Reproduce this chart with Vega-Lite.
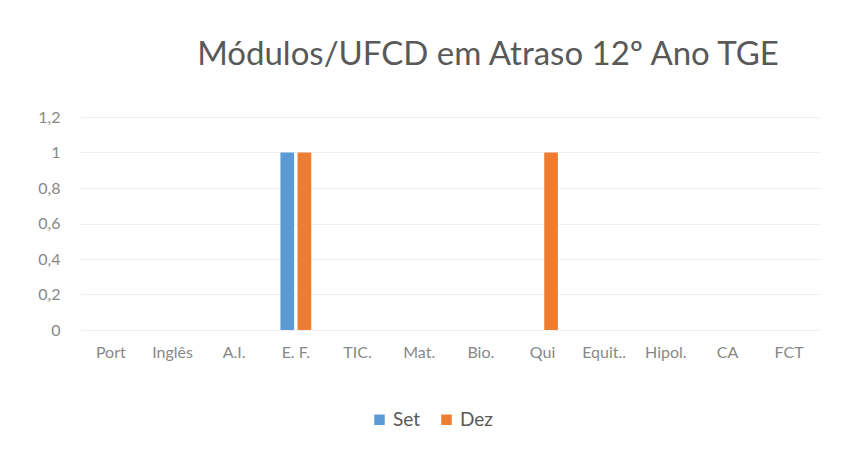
{
  "$schema": "https://vega.github.io/schema/vega-lite/v6.json",
  "autosize": "none",
  "width": 740,
  "height": 213,
  "padding": {"left": 80, "top": 117, "right": 21, "bottom": 120},
  "background": "white",
  "config": {
    "font": "Lato",
    "view": {"stroke": null}
  },
  "title": {
    "text": "Módulos/UFCD em Atraso 12º Ano TGE",
    "fontSize": 33,
    "fontWeight": "normal",
    "color": "#595959",
    "offset": 37,
    "dx": 38
  },
  "data": {
    "values": [
      {"cat": "Port", "serie": "Set", "v": 0}, {"cat": "Port", "serie": "Dez", "v": 0},
      {"cat": "Inglês", "serie": "Set", "v": 0}, {"cat": "Inglês", "serie": "Dez", "v": 0},
      {"cat": "A.I.", "serie": "Set", "v": 0}, {"cat": "A.I.", "serie": "Dez", "v": 0},
      {"cat": "E. F.", "serie": "Set", "v": 1}, {"cat": "E. F.", "serie": "Dez", "v": 1},
      {"cat": "TIC.", "serie": "Set", "v": 0}, {"cat": "TIC.", "serie": "Dez", "v": 0},
      {"cat": "Mat.", "serie": "Set", "v": 0}, {"cat": "Mat.", "serie": "Dez", "v": 0},
      {"cat": "Bio.", "serie": "Set", "v": 0}, {"cat": "Bio.", "serie": "Dez", "v": 0},
      {"cat": "Qui", "serie": "Set", "v": 0}, {"cat": "Qui", "serie": "Dez", "v": 1},
      {"cat": "Equit..", "serie": "Set", "v": 0}, {"cat": "Equit..", "serie": "Dez", "v": 0},
      {"cat": "Hipol.", "serie": "Set", "v": 0}, {"cat": "Hipol.", "serie": "Dez", "v": 0},
      {"cat": "CA", "serie": "Set", "v": 0}, {"cat": "CA", "serie": "Dez", "v": 0},
      {"cat": "FCT", "serie": "Set", "v": 0}, {"cat": "FCT", "serie": "Dez", "v": 0}
    ]
  },
  "mark": {"type": "bar"},
  "encoding": {
    "x": {
      "field": "cat",
      "type": "nominal",
      "sort": null,
      "title": null,
      "scale": {"paddingInner": 0.5, "paddingOuter": 0.25},
      "axis": {
        "labelAngle": 0,
        "labelFontSize": 16,
        "labelColor": "#888888",
        "labelPadding": 14,
        "domain": false,
        "ticks": false
      }
    },
    "xOffset": {
      "field": "serie",
      "type": "nominal",
      "sort": ["Set", "Dez"],
      "scale": {"paddingInner": 0.2}
    },
    "y": {
      "field": "v",
      "type": "quantitative",
      "title": null,
      "scale": {"domain": [0, 1.2]},
      "axis": {
        "values": [0, 0.2, 0.4, 0.6, 0.8, 1, 1.2],
        "labelExpr": "replace(format(datum.value, '~r'), '.', ',')",
        "labelFontSize": 16,
        "labelColor": "#888888",
        "labelPadding": 20,
        "domain": false,
        "ticks": false,
        "gridColor": "#f0f0f0"
      }
    },
    "color": {
      "field": "serie",
      "type": "nominal",
      "sort": ["Set", "Dez"],
      "scale": {"domain": ["Set", "Dez"], "range": ["#5B9BD5", "#ED7D31"]},
      "legend": {
        "title": null,
        "orient": "none",
        "direction": "horizontal",
        "legendX": 290,
        "legendY": 293,
        "symbolType": "square",
        "symbolSize": 110,
        "labelFontSize": 19,
        "labelColor": "#595959",
        "columnPadding": 16
      }
    }
  }
}
